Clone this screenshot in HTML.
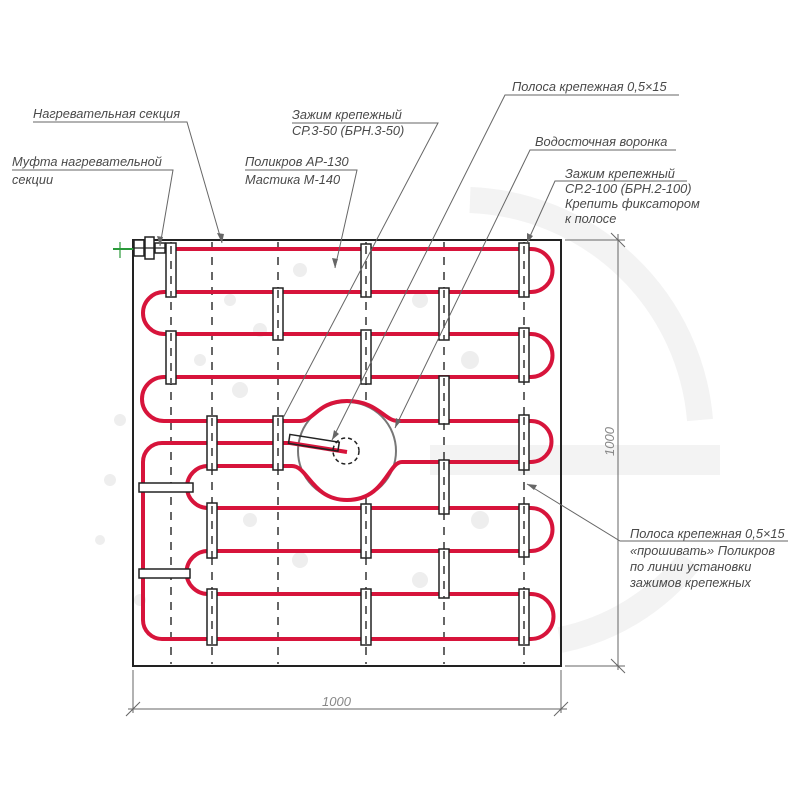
<!DOCTYPE html>
<html><head><meta charset="utf-8"><style>
html,body{margin:0;padding:0;background:#fff;}
svg{display:block;}
text{font-family:"Liberation Sans",sans-serif;font-style:italic;font-size:12.8px;fill:#4a4a4a;}
</style></head><body>
<svg width="800" height="800" viewBox="0 0 800 800" xmlns="http://www.w3.org/2000/svg">
<!-- faint background -->
<g fill="none" stroke="#f3f3f3">
<path d="M470,200 A240,240 0 0 1 700,420" stroke-width="26"/>
<path d="M430,460 H720" stroke-width="30"/>
<path d="M560,640 A220,220 0 0 0 690,560" stroke-width="26"/>
</g>
<g fill="#eeeeee">
<circle cx="230" cy="300" r="6"/><circle cx="260" cy="330" r="7"/><circle cx="200" cy="360" r="6"/><circle cx="240" cy="390" r="8"/>
<circle cx="300" cy="270" r="7"/><circle cx="420" cy="300" r="8"/><circle cx="470" cy="360" r="9"/><circle cx="300" cy="560" r="8"/>
<circle cx="250" cy="520" r="7"/><circle cx="480" cy="520" r="9"/><circle cx="420" cy="580" r="8"/><circle cx="120" cy="420" r="6"/>
<circle cx="110" cy="480" r="6"/><circle cx="100" cy="540" r="5"/><circle cx="140" cy="600" r="6"/>
</g>

<rect x="133" y="240" width="428" height="426" fill="none" stroke="#222" stroke-width="2"/>

<g stroke="#333" stroke-width="1.5" stroke-dasharray="8,7">
<line x1="171" y1="242" x2="171" y2="664"/>
<line x1="212" y1="242" x2="212" y2="664"/>
<line x1="278" y1="242" x2="278" y2="664"/>
<line x1="366" y1="242" x2="366" y2="664"/>
<line x1="444" y1="242" x2="444" y2="664"/>
<line x1="524" y1="242" x2="524" y2="664"/>
</g>

<circle cx="347" cy="451" r="49" fill="#fff" stroke="#777" stroke-width="2"/>

<path fill="none" stroke="#d7143b" stroke-width="4" stroke-linejoin="round" d="
M153,249 H531 A21.5,21.5 0 0 1 531,292 H164 A21,21 0 0 0 164,334 H531 A21.5,21.5 0 0 1 531,377 H164 A22,22 0 0 0 164,421
H300 C314,421 318,401 347,401 C378,401 384,421 398,421 H531 A20.5,20.5 0 0 1 531,462
H402 C388,462 385,500 347,500 C312,500 308,466 292,466 H208 A21,21 0 0 0 208,508
H531 A21.5,21.5 0 0 1 531,551 H208 A21.5,21.5 0 0 0 208,594
H531 A22.5,22.5 0 0 1 531,639 H162 A19,19 0 0 1 143,620 V462 A19,19 0 0 1 162,443 H290 L347,452"/>

<circle cx="346" cy="451" r="13" fill="none" stroke="#222" stroke-width="1.5" stroke-dasharray="4,3"/>
<g transform="rotate(9 312 442)"><rect x="289" y="438" width="50" height="9" fill="none" stroke="#222" stroke-width="1.5"/></g>

<g fill="#fff" stroke="#222" stroke-width="1.5">
<rect x="166" y="243" width="10" height="54"/><rect x="166" y="331" width="10" height="53"/>
<rect x="207" y="416" width="10" height="54"/><rect x="207" y="503" width="10" height="55"/><rect x="207" y="589" width="10" height="56"/>
<rect x="273" y="288" width="10" height="52"/><rect x="273" y="416" width="10" height="54"/>
<rect x="361" y="244" width="10" height="53"/><rect x="361" y="330" width="10" height="54"/><rect x="361" y="504" width="10" height="54"/><rect x="361" y="589" width="10" height="56"/>
<rect x="439" y="288" width="10" height="52"/><rect x="439" y="376" width="10" height="48"/><rect x="439" y="460" width="10" height="54"/><rect x="439" y="549" width="10" height="49"/>
<rect x="519" y="243" width="10" height="54"/><rect x="519" y="328" width="10" height="54"/><rect x="519" y="415" width="10" height="55"/><rect x="519" y="504" width="10" height="53"/><rect x="519" y="589" width="10" height="56"/>
<rect x="139" y="483" width="54" height="9"/><rect x="139" y="569" width="51" height="9"/>
</g>
<g stroke="#333" stroke-width="1.5" stroke-dasharray="8,7">
<line x1="171" y1="246" x2="171" y2="296"/><line x1="171" y1="333" x2="171" y2="383"/>
<line x1="212" y1="418" x2="212" y2="470"/><line x1="212" y1="506" x2="212" y2="558"/><line x1="212" y1="591" x2="212" y2="645"/>
<line x1="278" y1="290" x2="278" y2="340"/><line x1="278" y1="418" x2="278" y2="470"/>
<line x1="366" y1="246" x2="366" y2="297"/><line x1="366" y1="332" x2="366" y2="384"/><line x1="366" y1="506" x2="366" y2="558"/><line x1="366" y1="591" x2="366" y2="645"/>
<line x1="444" y1="290" x2="444" y2="340"/><line x1="444" y1="378" x2="444" y2="424"/><line x1="444" y1="462" x2="444" y2="514"/><line x1="444" y1="551" x2="444" y2="598"/>
<line x1="524" y1="246" x2="524" y2="297"/><line x1="524" y1="330" x2="524" y2="382"/><line x1="524" y1="417" x2="524" y2="470"/><line x1="524" y1="506" x2="524" y2="557"/><line x1="524" y1="591" x2="524" y2="645"/>
</g>

<line x1="113" y1="249" x2="134" y2="249" stroke="#2a9a3a" stroke-width="2"/>
<line x1="120" y1="242" x2="120" y2="258" stroke="#2a9a3a" stroke-width="1.2"/>
<g fill="#fff" stroke="#222" stroke-width="1.5">
<rect x="134" y="240" width="10" height="16"/><rect x="145" y="237" width="9" height="22"/><rect x="155" y="243" width="10" height="10"/>
</g>
<line x1="134" y1="248" x2="165" y2="248" stroke="#222" stroke-width="1.2"/>

<g stroke="#666" stroke-width="1" fill="none">
<polyline points="33,122 187,122 222,243"/>
<polyline points="12,170 173,170 160,246"/>
<polyline points="245,170 357,170 335,268"/>
<polyline points="292,123 438,123 283,418"/>
<polyline points="679,95 505,95 332,440"/>
<polyline points="676,150 530,150 395,428"/>
<polyline points="687,181 555,181 527,243"/>
<polyline points="788,541 620,541 527,484"/>
<line x1="565" y1="240" x2="625" y2="240"/><line x1="565" y1="666" x2="625" y2="666"/>
<line x1="618" y1="234" x2="618" y2="670"/>
<line x1="611" y1="233" x2="625" y2="247"/><line x1="611" y1="659" x2="625" y2="673"/>
<line x1="133" y1="670" x2="133" y2="713"/><line x1="561" y1="670" x2="561" y2="713"/>
<line x1="128" y1="709" x2="567" y2="709"/>
<line x1="126" y1="716" x2="140" y2="702"/><line x1="554" y1="716" x2="568" y2="702"/>
</g>
<g fill="#666">
<path d="M222,243 L217,233 L224,234 Z"/>
<path d="M160,246 L157,236 L163,237 Z"/>
<path d="M335,268 L332,258 L338,259 Z"/>
<path d="M332,440 L334,430 L339,434 Z"/>
<path d="M395,428 L396,418 L401,421 Z"/>
<path d="M527,243 L527,233 L533,236 Z"/>
<path d="M527,484 L537,485 L534,490 Z"/>
</g>

<text x="33" y="118">Нагревательная секция</text>
<text x="12" y="166">Муфта нагревательной</text>
<text x="12" y="184">секции</text>
<text x="292" y="119">Зажим крепежный</text>
<text x="292" y="135">СР.3-50 (БРН.3-50)</text>
<text x="245" y="166">Поликров АР-130</text>
<text x="245" y="184">Мастика М-140</text>
<text x="512" y="91">Полоса крепежная 0,5×15</text>
<text x="535" y="146">Водосточная воронка</text>
<text x="565" y="178">Зажим крепежный</text>
<text x="565" y="193">СР.2-100 (БРН.2-100)</text>
<text x="565" y="208">Крепить фиксатором</text>
<text x="565" y="223">к полосе</text>
<text x="630" y="538">Полоса крепежная 0,5×15</text>
<text x="630" y="555">«прошивать» Поликров</text>
<text x="630" y="571">по линии установки</text>
<text x="630" y="587">зажимов крепежных</text>
<text x="322" y="706" style="fill:#888;font-size:13px">1000</text>
<text transform="translate(614,456) rotate(-90)" style="fill:#888;font-size:13px">1000</text>
</svg>
</body></html>
